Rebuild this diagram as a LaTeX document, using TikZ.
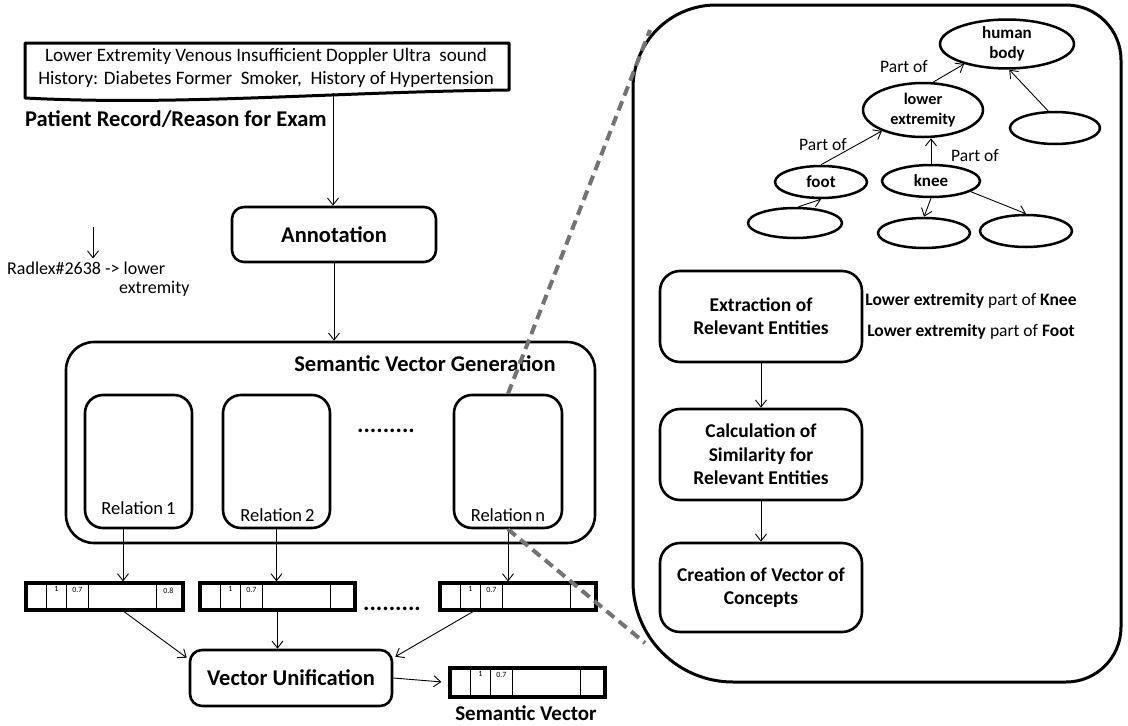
\documentclass[tikz,border=0pt]{standalone}
\usepackage{fontspec}
\setmainfont{Carlito}
\usetikzlibrary{arrows.meta,shapes.geometric,calc}
\begin{document}
\begin{tikzpicture}[x=1pt,y=-1pt,
  arr/.style={-{Straight Barb[length=7pt,width=11pt]}, line width=0.9pt},
  rbox/.style={draw, line width=2.6pt, rounded corners=#1, inner sep=0pt, align=center},
  rbox/.default=12pt,
  vecbox/.style={draw, line width=3.2pt, inner sep=0pt, minimum height=27pt},
  divline/.style={line width=0.9pt},
  vnum/.style={font=\fontsize{8}{9}\selectfont, inner sep=0pt},
  ell/.style={draw, ellipse, line width=2.5pt, inner sep=0pt, align=center,
              font=\bfseries\fontsize{17}{20}\selectfont},
  lbl/.style={font=\fontsize{17.5}{20}\selectfont, inner sep=0pt},
  bigtitle/.style={font=\bfseries\fontsize{22.5}{26}\selectfont},
  steptitle/.style={font=\bfseries\fontsize{19.5}{23.3}\selectfont},
  dashlink/.style={draw=black!55, line width=4pt, dash pattern=on 10pt off 6pt},
]
\useasboundingbox (0,0) rectangle (1128,726);
\fill[white] (0,0) rectangle (1128,726);

% ---------- patient record ----------
\draw[line width=3pt, line join=round] (25,43) -- (509,43) -- (509,90)
  .. controls (330,92) and (180,106) .. (25,98) -- cycle;
\node[align=center, font=\fontsize{19}{22.5}\selectfont, inner sep=0pt] (pr) at (266,68)
  {Lower Extremity Venous Insufficient Doppler Ultra\ \ sound\\
   History: Diabetes Former\ \ Smoker,\ \ History of Hypertension};
\node[bigtitle, anchor=west, inner sep=0pt] (prt) at (25,119) {Patient Record/Reason for Exam};
\coordinate (prb) at (333,93);

% ---------- annotation ----------
\node[rbox=12pt, minimum width=204pt, minimum height=55pt, bigtitle] (ann) at (334,234.5) {Annotation};
\draw[arr] (prb) -- (prb |- ann.north);

% Radlex
\node[font=\fontsize{18}{20}\selectfont, anchor=west, inner sep=0pt] (rad1) at (7,268) {Radlex\#2638 -> lower};
\node[font=\fontsize{18}{20}\selectfont, anchor=west, inner sep=0pt] (rad2) at (119,289) {extremity};
\coordinate (radA) at (93,227);
\draw[arr] (radA) -- ([yshift=3pt]radA |- rad1.north);

% ---------- semantic vector generation ----------
\node[rbox=28pt, minimum width=529pt, minimum height=201pt] (svg) at (330.5,442.5) {};
\node[bigtitle, inner sep=0pt] (svgt) at (425,364) {Semantic Vector Generation};
\draw[arr] (ann.south) -- (ann.south |- svg.north);

\node[rbox=18pt, minimum width=107pt, minimum height=133pt] (r1) at (138.5,461.5) {};
\node[rbox=18pt, minimum width=107pt, minimum height=133pt] (r2) at (276.5,461.5) {};
\node[rbox=18pt, minimum width=108pt, minimum height=133pt] (rn) at (508,461.5) {};
\node[lbl, font=\fontsize{18.5}{20}\selectfont] (r1l) at (138.5,508) {Relation\,1};
\node[lbl, font=\fontsize{18.5}{20}\selectfont] (r2l) at (277.5,515) {Relation\,2};
\node[lbl, font=\fontsize{18.5}{20}\selectfont] (rnl) at (508,515) {Relation\,n};
\node[font=\bfseries\fontsize{24}{26}\selectfont, anchor=base, inner sep=0pt] (dots1) at (386,432) {.........};

% ---------- vectors ----------
\node[vecbox, minimum width=157pt] (v1) at (104.5,596.5) {};
\node[vecbox, minimum width=155pt] (v2) at (277.5,596.5) {};
\node[vecbox, minimum width=156pt] (vn) at (518,596.5) {};
\node[vecbox, minimum width=155pt, minimum height=29pt] (sv) at (527.5,682.5) {};
\node[font=\bfseries\fontsize{24}{26}\selectfont, anchor=base, inner sep=0pt] (dots2) at (392,610) {.........};

\foreach \v in {v1,v2,vn,sv}{
  \foreach \d in {22,42,64,132}{
    \draw[divline] ([xshift=\d pt]\v.north west) -- ([xshift=\d pt]\v.south west);
  }
  \node[vnum] at ([xshift=32pt,yshift=-8pt]\v.north west) {1};
  \node[vnum] at ([xshift=53pt,yshift=-9pt]\v.north west) {0.7};
}
\node[vnum] at ([xshift=144pt,yshift=-9pt]v1.north west) {0.8};

\draw[arr] ([xshift=-15.5pt]r1.south) -- ([xshift=-15.5pt]r1.south |- v1.north);
\draw[arr] (r2.south) -- (r2.south |- v2.north);
\draw[arr] (rn.south) -- (rn.south |- vn.north);

% ---------- vector unification ----------
\node[rbox=12pt, minimum width=202pt, minimum height=56pt, bigtitle] (vu) at (291,678) {Vector Unification};
\draw[arr] ([xshift=19.5pt]v1.south) -- ([yshift=-9pt,xshift=-2pt]vu.north west);
\draw[arr] (v2.south) -- (v2.south |- vu.north);
\draw[arr] ([xshift=-45pt]vn.south) -- ([yshift=-8pt,xshift=2pt]vu.north east);
\draw[arr, shorten >=7pt] (vu.east) -- (sv.west);
\node[font=\bfseries\fontsize{21}{24}\selectfont, inner sep=0pt] (svt) at (526,713) {Semantic Vector};

% ---------- right big box ----------
\draw[line width=3pt] (633,88) -- (633,582)
  .. controls (633,637.2) and (677.8,682) .. (733,682)
  -- (1066,682)
  .. controls (1096.4,682) and (1121,657.6) .. (1121,627)
  -- (1121,60)
  .. controls (1121,29.6) and (1096.4,5) .. (1066,5)
  -- (716,5)
  .. controls (670.2,5) and (633,42.2) .. (633,88) -- cycle;

% ontology
\node[ell, minimum width=134pt, minimum height=48pt] (hb) at (1007,44) {human\\body};
\node[ell, minimum width=120pt, minimum height=54pt, font=\bfseries\fontsize{16.2}{20}\selectfont] (le) at (923,110) {lower\\extremity};
\node[ell, minimum width=90pt, minimum height=32pt] (er) at (1055,128) {};
\node[ell, minimum width=92pt, minimum height=32pt] (foot) at (821,182) {foot};
\node[ell, minimum width=98pt, minimum height=32pt] (knee) at (931,181) {knee};
\node[ell, minimum width=94pt, minimum height=30pt] (eb) at (795,223) {};
\node[ell, minimum width=92pt, minimum height=30pt] (ek1) at (924,233) {};
\node[ell, minimum width=92pt, minimum height=32pt] (ek2) at (1026,231) {};

\draw[arr] (le.70) -- (hb.205);
\draw[arr] (er.112) -- (hb.275);
\draw[arr] (foot.north) -- (le.207);
\draw[arr] (knee.north) -- (knee.north |- le.south);
\draw[arr] (eb.78) -- (foot.south);
\draw[arr] (knee.south) -- (ek1.north);
\draw[arr] (knee.-15) -- (ek2.north);

\node[lbl] (po1) at (904,67) {Part of};
\node[lbl] (po2) at (823,145) {Part of};
\node[lbl] (po3) at (975,156) {Part of};

% steps
\node[rbox=20pt, minimum width=202pt, minimum height=91pt, steptitle] (ext) at (761,316.5) {Extraction of\\Relevant Entities};
\node[rbox=20pt, minimum width=202pt, minimum height=91pt, steptitle] (calc) at (761,454.5) {Calculation of\\Similarity for\\Relevant Entities};
\node[rbox=20pt, minimum width=202pt, minimum height=89pt, steptitle] (crea) at (761,587.5) {Creation of Vector of\\Concepts};
\draw[arr] (ext.south) -- (calc.north);
\draw[arr] (calc.south) -- (crea.north);

\node[lbl, font=\fontsize{17.5}{20}\selectfont] (rel1) at (971,301) {\textbf{Lower extremity} part of \textbf{Knee}};
\node[lbl, font=\fontsize{17.5}{20}\selectfont] (rel2) at (971,332) {\textbf{Lower extremity} part of \textbf{Foot}};

% dashed zoom links
\coordinate (bigTL) at (650,30);
\coordinate (bigBL) at (645,643);
\draw[dashlink] (rn.north) -- (bigTL);
\draw[dashlink] (rn.south) -- (bigBL);
\end{tikzpicture}
\end{document}
